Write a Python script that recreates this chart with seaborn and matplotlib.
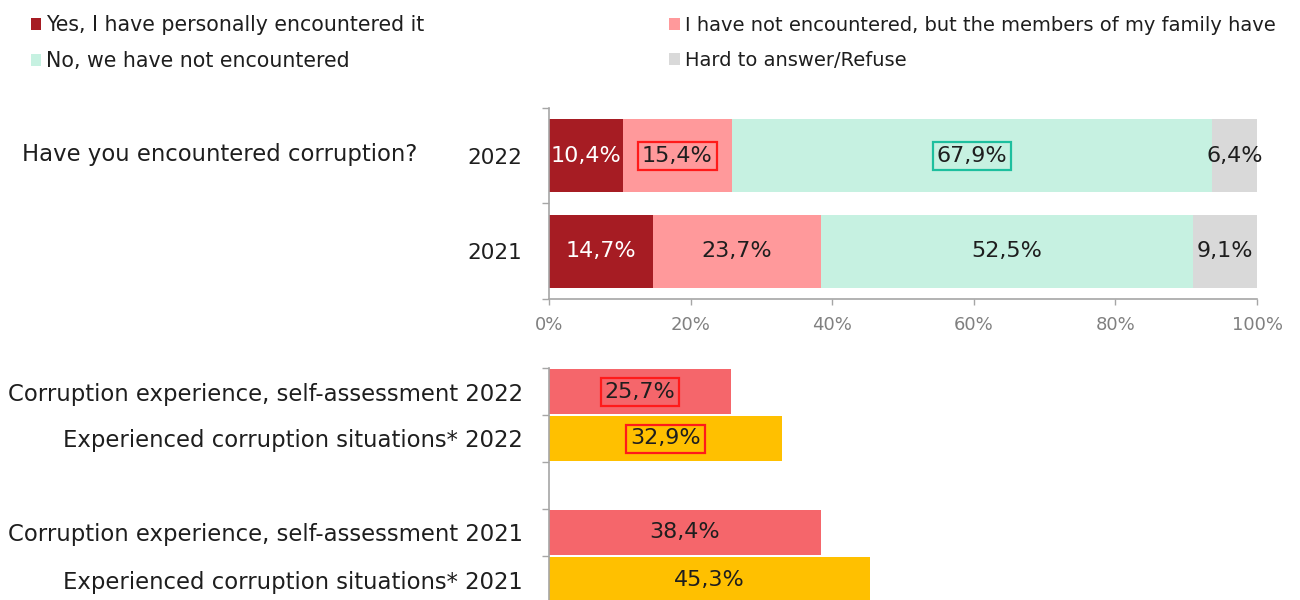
import numpy as np
import pandas as pd
import matplotlib
matplotlib.use("Agg")
import matplotlib.pyplot as plt
from matplotlib.patches import Patch
import seaborn as sns

# --- data ---------------------------------------------------------------
years = ["2022", "2021"]
answers = [
    "Yes, I have personally encountered it",
    "I have not encountered, but the members of my family have",
    "No, we have not encountered",
    "Hard to answer/Refuse",
]
share_2022 = [10.4, 15.4, 67.9, 6.4]
share_2021 = [14.7, 23.7, 52.5, 9.1]
answer_colors = ["#A61C23", "#FF999B", "#C6F1E1", "#D9D9D9"]

exp_labels = [
    "Corruption experience, self-assessment 2022",
    "Experienced corruption situations* 2022",
    " ",
    "Corruption experience, self-assessment 2021",
    "Experienced corruption situations* 2021",
]
exp_kind = ["self", "situations", None, "self", "situations"]
exp_values = [25.7, 32.9, None, 38.4, 45.3]
kind_colors = {"self": "#F5666B", "situations": "#FFC000"}

# highlighted labels (boxed in the original)
boxed_top = {("2022", 1): "#FF1A1A", ("2022", 2): "#1DBF9E"}
boxed_bottom = {0: "#FF1A1A", 1: "#FF1A1A"}


def pct(v):
    return f"{v:.1f}".replace(".", ",") + "%"


sns.set_theme(style="white")
plt.rcParams["font.family"] = ["DejaVu Sans"]

AXIS_GREY = "#A6A6A6"
TEXT_DARK = "#1E1E1E"

fig = plt.figure(figsize=(13, 6), dpi=100)

# --- top chart: stacked 100% bars ---------------------------------------
ax1 = fig.add_axes([549 / 1300, 301 / 600, 708 / 1300, 191 / 600])

rows = []
for year, vals in zip(years, [share_2022, share_2021]):
    cum = np.cumsum(vals)
    for i, ans in enumerate(answers):
        rows.append({"year": year, "answer": ans, "value": vals[i],
                     "cum": cum[i], "start": cum[i] - vals[i]})
df_top = pd.DataFrame(rows)

# draw cumulative totals from the widest down so each segment shows
for ans, col in reversed(list(zip(answers, answer_colors))):
    sub = df_top[df_top["answer"] == ans]
    sns.barplot(data=sub, x="cum", y="year", order=years, color=col,
                width=0.76, orient="h", ax=ax1, saturation=1,
                linewidth=0, edgecolor="none")

for _, r in df_top.iterrows():
    yi = years.index(r["year"])
    ai = answers.index(r["answer"])
    txt_col = "white" if ai == 0 else TEXT_DARK
    box = None
    if (r["year"], ai) in boxed_top:
        box = dict(boxstyle="square,pad=0.18", fc="none",
                   ec=boxed_top[(r["year"], ai)], lw=1.6)
    ax1.text(r["start"] + r["value"] / 2, yi, pct(r["value"]),
             ha="center", va="center", fontsize=16, color=txt_col, bbox=box)

ax1.set_xlim(0, 100)
ax1.set_ylim(1.5, -0.5)
ax1.set_xlabel("")
ax1.set_ylabel("")
ax1.set_xticks([0, 20, 40, 60, 80, 100])
ax1.set_xticklabels([f"{t}%" for t in [0, 20, 40, 60, 80, 100]])
ax1.set_yticks([0, 1])
ax1.set_yticklabels(years)
ax1.set_yticks([-0.5, 0.5, 1.5], minor=True)
ax1.tick_params(axis="y", which="major", length=0, pad=19,
                labelsize=15.5, labelcolor=TEXT_DARK)
ax1.tick_params(axis="y", which="minor", left=True, length=5,
                width=1, color=AXIS_GREY)
ax1.tick_params(axis="x", bottom=True, length=4, width=1, color=AXIS_GREY,
                pad=8, labelsize=13, labelcolor="#808080")
for side in ["top", "right"]:
    ax1.spines[side].set_visible(False)
for side in ["left", "bottom"]:
    ax1.spines[side].set_color(AXIS_GREY)
    ax1.spines[side].set_linewidth(1.2)

fig.text(22 / 1300, 1 - 155 / 600, "Have you encountered corruption?",
         ha="left", va="center", fontsize=16.4, color=TEXT_DARK)

# --- bottom chart: corruption experience --------------------------------
ax2 = fig.add_axes([549 / 1300, -3 / 600, 708 / 1300, 235 / 600])

df_bot = pd.DataFrame({"label": exp_labels, "kind": exp_kind,
                       "value": exp_values}).dropna()
sns.barplot(data=df_bot, x="value", y="label", order=exp_labels,
            hue="kind", palette=kind_colors, dodge=False, legend=False,
            width=0.97, orient="h", ax=ax2, saturation=1,
            linewidth=0, edgecolor="none")

for i, (v, lab) in enumerate(zip(exp_values, exp_labels)):
    if v is None:
        continue
    box = None
    if i in boxed_bottom:
        box = dict(boxstyle="square,pad=0.18", fc="none",
                   ec=boxed_bottom[i], lw=1.6)
    ax2.text(v / 2, i, pct(v), ha="center", va="center", fontsize=16,
             color=TEXT_DARK, bbox=box)

ax2.set_xlim(0, 100)
ax2.set_ylim(4.5, -0.5)
ax2.set_xlabel("")
ax2.set_ylabel("")
ax2.set_xticks([])
ax2.set_yticks(range(len(exp_labels)))
ax2.set_yticklabels(exp_labels)
ax2.set_yticks(np.arange(-0.5, 5.0, 1.0), minor=True)
ax2.tick_params(axis="y", which="major", length=0, pad=19,
                labelsize=16.4, labelcolor=TEXT_DARK)
ax2.tick_params(axis="y", which="minor", left=True, length=5,
                width=1, color=AXIS_GREY)
for side in ["top", "right", "bottom"]:
    ax2.spines[side].set_visible(False)
ax2.spines["left"].set_color(AXIS_GREY)
ax2.spines["left"].set_linewidth(1.2)

# --- legend -------------------------------------------------------------
legend_order = [0, 2, 1, 3]
handles = [Patch(facecolor=answer_colors[i], edgecolor="none") for i in legend_order]
labels = [answers[i] for i in legend_order]
leg = fig.legend(handles, labels, loc="upper left",
                 bbox_to_anchor=(31 / 1300, 1 - 15 / 600), ncol=2, frameon=False,
                 fontsize=14.8, handlelength=0.5, handleheight=0.5,
                 handletextpad=0.25, columnspacing=11.9, labelspacing=0.8,
                 borderpad=0, borderaxespad=0, labelcolor=TEXT_DARK)
# the long right-hand entries are set a touch smaller so they fit
for t in leg.get_texts()[2:]:
    t.set_fontsize(14.0)

fig.savefig("out.png", dpi=100)
